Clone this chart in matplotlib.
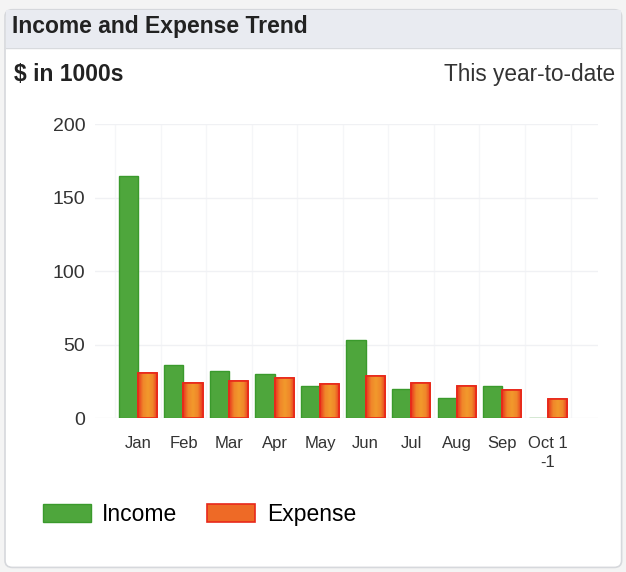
import numpy as np
import matplotlib
matplotlib.use('Agg')
import matplotlib.pyplot as plt
from matplotlib.patches import FancyBboxPatch, Rectangle
from matplotlib.colors import LinearSegmentedColormap

plt.rcParams['font.family'] = ['Liberation Sans', 'DejaVu Sans']

months = ['Jan', 'Feb', 'Mar', 'Apr', 'May', 'Jun', 'Jul', 'Aug', 'Sep', 'Oct 1\n-1']
income = [165, 36, 32, 30, 22, 53, 20, 14, 22, 0]
expense = [31, 24, 25, 27, 23, 29, 24, 22, 19, 13]
yticks = [0, 50, 100, 150, 200]

fig = plt.figure(figsize=(6.26, 5.72), dpi=100)
fig.patch.set_facecolor('#f4f4f4')

# card and header band
card = FancyBboxPatch((0.008, 0.008), 0.985, 0.975, boxstyle='round,pad=0,rounding_size=0.012',
                      transform=fig.transFigure, facecolor='white', edgecolor='#d6d8dc', lw=1.2,
                      zorder=-2)
fig.patches.append(card)
head = Rectangle((0.009, 0.916), 0.983, 0.066, transform=fig.transFigure,
                 facecolor='#e9ebf1', edgecolor='none', zorder=-1)
fig.patches.append(head)
fig.add_artist(plt.Line2D([0.009, 0.992], [0.916, 0.916], transform=fig.transFigure,
                          color='#d8dade', lw=1, zorder=-1))

fig.text(0.019, 0.953, 'Income and Expense Trend', fontsize=16.5, fontweight='bold',
         color='#222222', va='center', ha='left')
fig.text(0.022, 0.869, '$ in 1000s', fontsize=16.5, fontweight='bold',
         color='#222222', va='center', ha='left')
fig.text(0.983, 0.869, 'This year-to-date', fontsize=16.3,
         color='#333333', va='center', ha='right')

ax = fig.add_axes([0.152, 0.269, 0.803, 0.514])
ax.set_zorder(2)
ax.patch.set_alpha(0)
x = np.arange(len(months))
w = 0.42
ax.bar(x - w / 2, income, w, color='#4ea63c', edgecolor='#3a9a2c', lw=1, label='Income', zorder=3)
ebars = ax.bar(x + w / 2, expense, w, color='#ee6a26', edgecolor='#e8281a', lw=1.2,
               label='Expense', zorder=3)

# orange centre / red sides shading on expense bars
grad = LinearSegmentedColormap.from_list('exp', ['#e8341e', '#f0862a', '#f29a2c', '#f0862a', '#e8341e'])
ramp = np.linspace(0, 1, 64).reshape(1, -1)
for r in ebars:
    x0, y0 = r.get_x(), r.get_y()
    im = ax.imshow(ramp, cmap=grad, aspect='auto', zorder=3.5,
                   extent=(x0, x0 + r.get_width(), y0, y0 + r.get_height()))
    im.set_clip_path(r)
    ax.add_patch(Rectangle((x0, y0), r.get_width(), r.get_height(), fill=False,
                           edgecolor='#e8281a', lw=1.2, zorder=4))

ax.set_ylim(0, 200)
ax.set_xlim(-0.94, 10.1)
ax.set_yticks(yticks)
ax.set_xticks(x)
ax.set_xticklabels(months, fontsize=12, color='#333333', linespacing=1.35)
ax.tick_params(axis='y', labelsize=14, colors='#333333', length=0, pad=7)
ax.tick_params(axis='x', length=0, pad=13)
for s in ax.spines.values():
    s.set_visible(False)
ax.grid(axis='y', color='#f0f1f4', lw=1, zorder=0)
ax.set_xticks(np.arange(-0.5, 10, 1), minor=True)
ax.grid(axis='x', which='minor', color='#f5f6f8', lw=1, zorder=0)
ax.tick_params(axis='x', which='minor', length=0)

fig.legend(loc='center left', bbox_to_anchor=(0.068, 0.101), ncol=2, frameon=False,
           fontsize=16.5, handlelength=2.1, handleheight=0.8, handletextpad=0.5,
           columnspacing=1.3, borderpad=0, borderaxespad=0)

fig.savefig('out.png', dpi=100, facecolor=fig.get_facecolor())
